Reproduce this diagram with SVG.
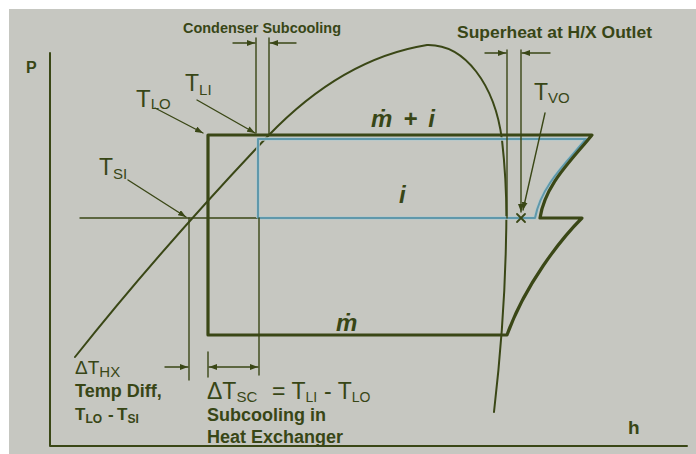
<svg xmlns="http://www.w3.org/2000/svg" width="696" height="454" viewBox="0 0 696 454">
<defs>
<style>
.ln{fill:none;stroke:#3a4716;stroke-linecap:round;stroke-linejoin:round}
.thin{stroke-width:1.4}
.thick{stroke-width:3.2}
.blue{fill:none;stroke:#5f98ab;stroke-width:2;stroke-linejoin:round}
.halo{fill:none;stroke:#b4c9cb;stroke-width:3.6;stroke-linejoin:round}
text{font-family:"Liberation Sans",Arial,sans-serif;fill:#384616}
.b{font-weight:bold}
.bi{font-weight:bold;font-style:italic}
</style>
<marker id="ah" viewBox="0 0 8 6" refX="8" refY="3" markerWidth="8" markerHeight="6" markerUnits="userSpaceOnUse" orient="auto-start-reverse">
<path d="M0,0 L8,3 L0,6 z" fill="#3a4716"/>
</marker>
</defs>
<rect x="0" y="0" width="696" height="454" fill="#ffffff"/>
<rect x="9" y="9" width="687" height="445" fill="#c6c7c1"/>

<g id="axes">
<path class="ln" d="M50,53 V446 H687" stroke-width="2"/>
<text class="b" x="26" y="73" font-size="16">P</text>
<text class="b" x="628" y="434" font-size="19">h</text>
</g>

<g id="dome">
<path class="ln" stroke-width="2" d="M75,357 Q160,250 268,136 C313,89 365,55 427,45 C465,44 495,85 502,140 C506,175 507,210 506,240 C505,300 500,360 494,412"/>
</g>

<g id="cycle">
<path class="ln thin" d="M80,218 H258"/>
<path class="halo" d="M258,218 V139 H586 C566,163 541,186 535,218 H258"/>
<path class="blue" d="M258,218 V139 H586 C566,163 541,186 535,218 Z"/>
<path class="ln thick" d="M208,335 V135 H592 C570,162 545,185 540,218 H582 C560,240 525,285 507,335 Z"/>
</g>

<g id="connectors">
<path class="ln thin" d="M256,38 V133 M269,38 V135"/>
<path class="ln thin" d="M233,43 H255" marker-end="url(#ah)"/>
<path class="ln thin" d="M296,43 H270" marker-end="url(#ah)"/>
<path class="ln thin" d="M507,50 V218"/>
<path class="ln thin" d="M521,50 V212" marker-end="url(#ah)"/>
<path class="ln thin" d="M485,53 H506" marker-end="url(#ah)"/>
<path class="ln thin" d="M550,53 H522" marker-end="url(#ah)"/>
<path class="ln thin" d="M155,108 L203,133" marker-end="url(#ah)"/>
<path class="ln thin" d="M197,100 L255,133" marker-end="url(#ah)"/>
<path class="ln thin" d="M128,180 L186,217" marker-end="url(#ah)"/>
<path class="ln thin" d="M545,113 L523,210" marker-end="url(#ah)"/>
<path class="ln" stroke-width="1.8" d="M517,214 L525,222 M525,214 L517,222"/>
<path class="ln thin" d="M189,218 V380"/>
<path class="ln thin" d="M165,367 H188" marker-end="url(#ah)"/>
<path class="ln thin" d="M208,352 V377 M259,218 V375"/>
<path class="ln thin" d="M209,367 H258" marker-start="url(#ah)" marker-end="url(#ah)"/>
</g>

<g id="labels">
<text class="b" x="183" y="33" font-size="15" textLength="158" lengthAdjust="spacingAndGlyphs">Condenser Subcooling</text>
<text class="b" x="457" y="38" font-size="16" textLength="195" lengthAdjust="spacingAndGlyphs">Superheat at H/X Outlet</text>
<text x="136" y="107" font-size="24">T<tspan font-size="15" dy="2">LO</tspan></text>
<text x="185" y="91" font-size="23">T<tspan font-size="15" dy="4">LI</tspan></text>
<text x="99" y="175" font-size="23">T<tspan font-size="15" dy="4">SI</tspan></text>
<text x="534" y="100" font-size="23">T<tspan font-size="15" dy="3">VO</tspan></text>
<text class="bi" x="371" y="127" font-size="24" textLength="64">ṁ + i</text>
<text class="bi" x="399" y="203" font-size="24">i</text>
<text class="bi" x="336" y="331" font-size="24">ṁ</text>
<text x="75" y="374" font-size="19">ΔT<tspan font-size="15" dy="3">HX</tspan></text>
<text class="b" x="75" y="397" font-size="18">Temp Diff,</text>
<text class="b" x="75" y="420" font-size="17">T<tspan font-size="12" dy="3">LO</tspan><tspan dy="-3" x="108">-</tspan><tspan x="117">T</tspan><tspan font-size="12" dy="3">SI</tspan></text>
<text x="207" y="399" font-size="23">ΔT<tspan font-size="15" dy="3">SC</tspan><tspan dy="-3" x="272">= T</tspan><tspan font-size="14" dy="3">LI</tspan><tspan dy="-3" x="324">- T</tspan><tspan font-size="14" dy="3">LO</tspan></text>
<text class="b" x="207" y="421" font-size="18">Subcooling in</text>
<text class="b" x="207" y="443" font-size="18">Heat Exchanger</text>
</g>
</svg>
